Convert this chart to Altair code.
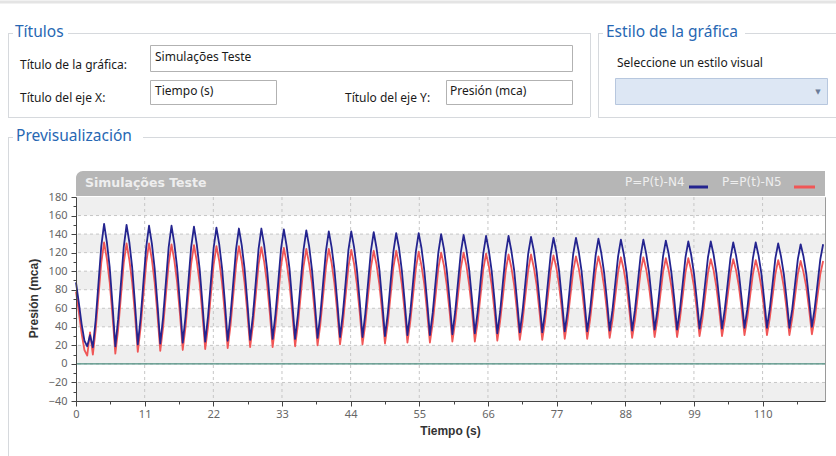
import altair as alt
import pandas as pd

# ---------------- data ----------------
CHART_TITLE = "Simulações Teste"
X_TITLE = "Tiempo (s)"
Y_TITLE = "Presión (mca)"
SERIES = ["P=P(t)-N4", "P=P(t)-N5"]
SERIES_COLORS = ["#24248f", "#f05656"]
TIME_STEP = 0.45  # sampling interval of the simulation output (s)

N4 = [
    88, 66, 43, 25, 19, 31, 18, 47, 87, 127,
    151, 131, 104, 64, 19, 48, 87, 126,
    150, 131, 104, 65, 21, 49, 88, 126,
    149, 130, 103, 65, 22, 50, 88, 126,
    149, 130, 104, 66, 23, 51, 88, 126,
    148, 129, 103, 66, 24, 51, 88, 125,
    147, 129, 103, 67, 25, 52, 88, 124,
    146, 128, 103, 67, 26, 52, 88, 124,
    146, 128, 103, 68, 27, 53, 88, 124,
    145, 127, 103, 67, 27, 53, 88, 123,
    144, 127, 102, 67, 28, 53, 88, 122,
    143, 126, 102, 68, 29, 54, 88, 123,
    143, 126, 102, 68, 29, 54, 88, 122,
    142, 125, 102, 68, 30, 54, 88, 121,
    141, 125, 101, 68, 31, 55, 88, 121,
    141, 125, 101, 68, 31, 55, 88, 120,
    140, 124, 101, 69, 32, 56, 88, 120,
    139, 123, 101, 69, 33, 56, 88, 119,
    138, 122, 100, 69, 33, 56, 88, 119,
    138, 122, 101, 69, 34, 57, 88, 119,
    137, 122, 100, 69, 34, 56, 87, 118,
    136, 121, 100, 69, 35, 57, 88, 118,
    136, 121, 100, 69, 35, 57, 87, 117,
    135, 120, 99, 70, 36, 58, 87, 116,
    134, 119, 99, 69, 36, 58, 87, 116,
    134, 119, 99, 70, 37, 58, 87, 116,
    133, 119, 98, 70, 37, 58, 86, 115,
    132, 118, 98, 70, 38, 59, 87, 115,
    132, 118, 98, 70, 38, 59, 86, 114,
    131, 117, 98, 70, 39, 59, 87, 114,
    131, 117, 98, 70, 39, 59, 86, 114,
    130, 116, 97, 70, 39, 59, 86, 113,
    129, 116, 97, 70, 40, 60, 86, 113,
    129,
]

N5 = [
    78, 56, 33, 15, 9, 34, 10, 37, 73, 109,
    131, 113, 88, 52, 11, 37, 73, 109,
    130, 112, 88, 53, 13, 39, 74, 109,
    130, 113, 88, 53, 14, 39, 74, 108,
    129, 112, 88, 54, 15, 40, 74, 108,
    128, 111, 88, 54, 16, 40, 74, 107,
    127, 111, 87, 54, 17, 41, 74, 107,
    127, 111, 88, 55, 18, 42, 74, 107,
    126, 110, 87, 55, 18, 42, 74, 106,
    125, 109, 87, 55, 19, 42, 74, 105,
    124, 108, 87, 55, 20, 43, 74, 105,
    124, 109, 87, 56, 21, 43, 74, 105,
    123, 108, 86, 56, 21, 43, 74, 104,
    122, 107, 86, 56, 22, 44, 74, 104,
    122, 107, 86, 57, 23, 45, 74, 103,
    121, 106, 86, 56, 23, 44, 73, 103,
    120, 106, 85, 57, 24, 45, 74, 103,
    120, 106, 85, 57, 24, 45, 73, 102,
    119, 105, 85, 57, 25, 46, 73, 101,
    118, 104, 85, 57, 26, 46, 74, 101,
    118, 104, 85, 57, 26, 46, 73, 101,
    117, 104, 85, 58, 27, 47, 73, 100,
    116, 103, 84, 57, 27, 47, 73, 100,
    116, 103, 84, 58, 28, 47, 73, 99,
    115, 102, 84, 58, 28, 47, 73, 99,
    115, 102, 84, 58, 29, 48, 73, 99,
    114, 101, 83, 58, 29, 48, 73, 99,
    114, 101, 84, 59, 30, 48, 73, 98,
    113, 101, 83, 58, 30, 48, 73, 98,
    113, 101, 84, 59, 31, 49, 73, 97,
    112, 100, 83, 59, 31, 49, 73, 97,
    112, 100, 83, 59, 31, 49, 73, 97,
    111, 99, 83, 59, 32, 49, 73, 97,
    111,
]

X_DOMAIN = [0, 120]
Y_DOMAIN = [-40, 180]
X_TICKS = [0, 5.5, 11, 16.5, 22, 27.5, 33, 38.5, 44, 49.5, 55, 60.5, 66,
           71.5, 77, 82.5, 88, 93.5, 99, 104.5, 110, 115.5]
Y_TICKS = [-40, -30, -20, -10, 0, 10, 20, 30, 40, 50, 60, 70, 80, 90, 100,
           110, 120, 130, 140, 150, 160, 170, 180]
X_GRID = [11, 22, 33, 44, 55, 66, 77, 88, 99, 110]
Y_GRID = [-20, 0, 20, 40, 60, 80, 100, 120, 140, 160]
BAND_LO = [-40, 0, 40, 80, 120, 160]
BAND_HI = [-20, 20, 60, 100, 140, 180]
ZERO = [0]

UI_LABELS = {
    "group1": "Títulos",
    "group2": "Estilo de la gráfica",
    "group3": "Previsualización",
    "lbl_title": "Título de la gráfica:",
    "lbl_x": "Título del eje X:",
    "lbl_y": "Título del eje Y:",
    "lbl_style": "Seleccione un estilo visual",
}

# ---------------- layout ----------------
W, H = 749, 204          # plot area
OX, OY = 76, 197         # plot origin on the page
UI_FONT = "Noto Sans"
HEAD_BLUE = "#2767b3"
FRAME = "#d6d9dd"

ONE = pd.DataFrame({"k": [0]})


def seg(x1, y1, x2, y2, color=FRAME, width=1):
    return alt.Chart(ONE).mark_rule(color=color, strokeWidth=width).encode(
        x=alt.value(x1 - OX), y=alt.value(y1 - OY),
        x2=alt.value(x2 - OX), y2=alt.value(y2 - OY))


def box(x1, y1, x2, y2, fill, stroke=None, **kw):
    props = dict(fill=fill, **kw)
    if stroke:
        props.update(stroke=stroke, strokeWidth=1)
    return alt.Chart(ONE).mark_rect(**props).encode(
        x=alt.value(x1 - OX), y=alt.value(y1 - OY),
        x2=alt.value(x2 - OX), y2=alt.value(y2 - OY))


def label(txt, x, y, size=12, color="#1a1a1a", weight="normal", font=UI_FONT, align="left"):
    return alt.Chart(ONE).mark_text(
        text=txt, align=align, baseline="middle", fontSize=size, color=color,
        fontWeight=weight, font=font).encode(x=alt.value(x - OX), y=alt.value(y - OY))


ui = [
    seg(0, 2, 836, 2, color="#e4e4e4", width=3),
    # Títulos group
    seg(8, 33.5, 13, 33.5), seg(68, 33.5, 590, 33.5), seg(8.5, 33, 8.5, 117),
    seg(8, 117.5, 590, 117.5), seg(590.5, 33, 590.5, 117),
    label(UI_LABELS["group1"], 15, 32, size=15.5, color=HEAD_BLUE),
    # Estilo group
    seg(598, 33.5, 603, 33.5), seg(745, 33.5, 836, 33.5), seg(598.5, 33, 598.5, 117),
    seg(598, 117.5, 836, 117.5),
    label(UI_LABELS["group2"], 606, 32, size=15.5, color=HEAD_BLUE),
    # Previsualización group
    seg(8, 137.5, 13, 137.5), seg(143, 137.5, 836, 137.5), seg(8.5, 137, 8.5, 456),
    label(UI_LABELS["group3"], 16, 136, size=15.5, color=HEAD_BLUE),
    # fields
    label(UI_LABELS["lbl_title"], 20, 65),
    label(UI_LABELS["lbl_x"], 20, 98),
    label(UI_LABELS["lbl_y"], 345, 98),
    label(UI_LABELS["lbl_style"], 617, 63),
    box(150.5, 45.5, 572.5, 71.5, "white", "#b2b2b2"),
    label(CHART_TITLE, 155, 57),
    box(150.5, 80.5, 276.5, 104.5, "white", "#b2b2b2"),
    label(X_TITLE, 155, 91),
    box(446.5, 80.5, 572.5, 104.5, "white", "#b2b2b2"),
    label(Y_TITLE, 450, 91),
    box(615.5, 78.5, 827.5, 104.5, "#dde7f4", "#b7c7de"),
    label("▼", 818, 92, size=7, color="#6b7d99", font="DejaVu Sans", align="center"),
]

# title band + legend
header = [
    box(76, 171, 825, 196, "#b6b6b6", cornerRadiusTopLeft=7),
    label(CHART_TITLE, 85, 183, size=12.5, color="#eeeeee", weight="bold", font="DejaVu Sans"),
    label(SERIES[0], 625, 182, size=12, color="#eeeeee", font="DejaVu Sans"),
    seg(689, 187, 708, 187, color=SERIES_COLORS[0], width=3),
    label(SERIES[1], 722, 182, size=12, color="#eeeeee", font="DejaVu Sans"),
    seg(794, 187, 815, 187, color=SERIES_COLORS[1], width=3),
]

# ---------------- scales & axes ----------------
XS = alt.Scale(domain=X_DOMAIN, nice=False, zero=False)
YS = alt.Scale(domain=Y_DOMAIN, nice=False, zero=False)

x_axis = alt.Axis(
    title=X_TITLE, values=X_TICKS,
    labelExpr="datum.value % 11 == 0 ? format(datum.value, 'd') : ''",
    tickSize={"condition": {"test": "datum.value % 11 == 0", "value": 5}, "value": 3},
    grid=False, domainColor="#444444", tickColor="#444444",
    labelColor="#666666", labelFont=UI_FONT, labelFontSize=11, labelPadding=2,
    labelFlush=False, labelOverlap=False,
    titleFont="Liberation Sans", titleFontSize=12, titleFontWeight="bold",
    titleColor="#333333", titleX=374, titleY=29, titleBaseline="middle",
    titleAlign="center", zindex=1)

y_axis = alt.Axis(
    title=Y_TITLE, values=Y_TICKS,
    labelExpr="datum.value % 20 == 0 ? datum.label : ''",
    tickSize={"condition": {"test": "datum.value % 20 == 0", "value": 5}, "value": 3},
    grid=False, domainColor="#444444", tickColor="#444444",
    labelColor="#666666", labelFont=UI_FONT, labelFontSize=11, labelPadding=4,
    labelOverlap=False,
    titleFont="Liberation Sans", titleFontSize=12, titleFontWeight="bold",
    titleColor="#333333", titleX=-43, titleY=101, titleBaseline="middle",
    titleAlign="center", zindex=1)


def XE(field):
    return alt.X(f"{field}:Q", scale=XS, axis=x_axis)


def YE(field):
    return alt.Y(f"{field}:Q", scale=YS, axis=y_axis)


bands = alt.Chart(pd.DataFrame({"lo": BAND_LO, "hi": BAND_HI})).mark_rect(
    color="#efefef").encode(x=alt.value(0), x2=alt.value(W), y=YE("lo"), y2="hi:Q")

grid_x = alt.Chart(pd.DataFrame({"gx": X_GRID})).mark_rule(
    color="#c6c6c6", strokeDash=[3, 3], strokeWidth=1).encode(x=XE("gx"))
grid_y = alt.Chart(pd.DataFrame({"gy": Y_GRID})).mark_rule(
    color="#c6c6c6", strokeDash=[3, 3], strokeWidth=1).encode(y=YE("gy"))
zero = alt.Chart(pd.DataFrame({"z": ZERO})).mark_rule(
    color="#4a8c7e", strokeWidth=1.2).encode(y=YE("z"))

lines_df = pd.concat([
    pd.DataFrame({"t": [round(i * TIME_STEP, 2) for i in range(len(N4))], "p": N4, "serie": SERIES[0]}),
    pd.DataFrame({"t": [round(i * TIME_STEP, 2) for i in range(len(N5))], "p": N5, "serie": SERIES[1]}),
], ignore_index=True)

base = alt.Chart(lines_df).mark_line(strokeWidth=1.8, strokeJoin="round").encode(
    x=XE("t"), y=YE("p"),
    color=alt.Color("serie:N", scale=alt.Scale(domain=SERIES, range=SERIES_COLORS), legend=None))
red = base.transform_filter(alt.datum.serie == SERIES[1])
blue = base.transform_filter(alt.datum.serie == SERIES[0])

chart = alt.layer(
    *ui, *header, bands, grid_x, grid_y, zero, red, blue
).properties(
    width=W, height=H,
    autosize=alt.AutoSizeParams(type="none"),
    padding={"left": OX, "top": OY, "right": 836 - OX - W, "bottom": 456 - OY - H},
).configure(background="white").configure_view(stroke="#9a9a9a", strokeWidth=1)

chart.save("out.html", embed_options={"renderer": "svg", "actions": False})
